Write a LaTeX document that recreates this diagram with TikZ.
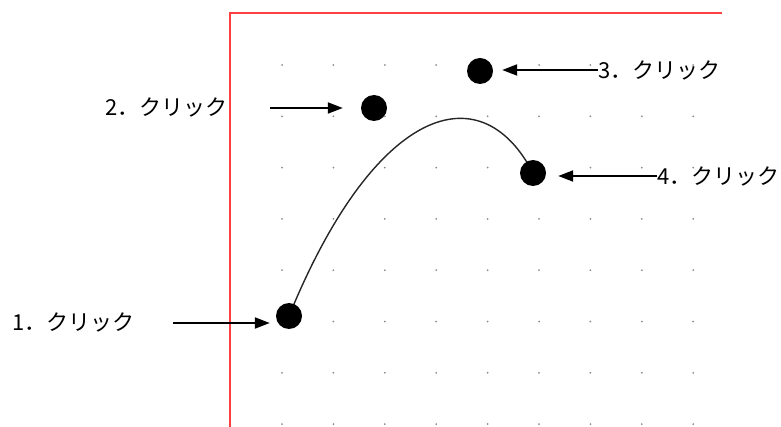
\documentclass[tikz,border=0pt]{standalone}
\usepackage{fontspec}
\newfontfamily\jpfont{Noto Sans CJK JP}
\usetikzlibrary{arrows.meta,positioning,calc}

\begin{document}
\begin{tikzpicture}[
    x=1pt, y=-1pt,
    font=\jpfont\fontsize{22}{22}\selectfont,
    dot/.style={circle, fill=black, inner sep=0pt, minimum size=26pt},
    lbl/.style={inner sep=0pt},
    arr/.style={-{Triangle[length=15pt,width=11pt]}, line width=2pt},
    frame/.style={draw=red!75!white, line width=2pt},
    curve/.style={draw=black!85, line width=1.4pt}
]
\useasboundingbox (0,0) rectangle (781,427);

% grid of dots
\foreach \i in {0,...,8}
  \foreach \j in {0,...,7}
    \fill[black!45] (282+51.4*\i, 65+51.3*\j) circle (1pt);

% red frame
\draw[frame] (230,427) -- (230,13) -- (722,13);

% clicked points and the curve through them
\coordinate (p1) at (289,316);
\coordinate (p2) at (374,108);
\coordinate (p3) at (480,71);
\coordinate (p4) at (533,173);

\draw[curve] (p1) .. controls (p2) and (p3) .. (p4);

\node[dot] (d1) at (p1) {};
\node[dot] (d2) at (p2) {};
\node[dot] (d3) at (p3) {};
\node[dot] (d4) at (p4) {};

% labels
\node[lbl, anchor=west] (l1) at (12,322) {1．クリック};
\node[lbl, anchor=west] (l2) at (105,107) {2．クリック};
\node[lbl, anchor=west] (l3) at (598,70) {3．クリック};
\node[lbl, anchor=west] (l4) at (657,176) {4．クリック};

\coordinate (t1) at (173,323);
\coordinate (t2) at (270,108);

\draw[arr, shorten >=6pt] (t1) -- (t1 -| d1.west);
\draw[arr, shorten >=18pt] (t2) -- (t2 -| d2.west);
\draw[arr, shorten >=9pt] (l3.west) -- (l3.west -| d3.east);
\draw[arr, shorten >=12pt] (l4.west) -- (l4.west -| d4.east);

\end{tikzpicture}
\end{document}
